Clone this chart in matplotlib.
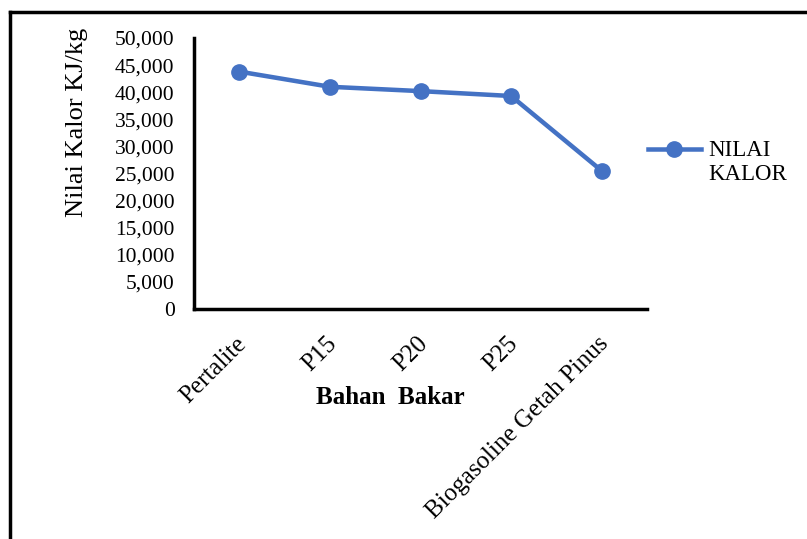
import matplotlib
matplotlib.use("Agg")
import matplotlib.pyplot as plt
from matplotlib.lines import Line2D
from matplotlib.ticker import FuncFormatter
from matplotlib.transforms import ScaledTranslation

# === Data ===
bahan_bakar = ["Pertalite", "P15", "P20", "P25", "Biogasoline Getah Pinus"]
nilai_kalor = [43800, 41000, 40200, 39300, 25500]
y_ticks = list(range(0, 50001, 5000))

plt.rcParams["font.family"] = ["Liberation Serif", "DejaVu Serif"]

W, H = 807, 539
fig = plt.figure(figsize=(W / 100, H / 100), dpi=100)
ax = fig.add_axes([194 / W, 1 - 309 / H, (647 - 194) / W, (309 - 38) / H])

ax.plot(range(len(bahan_bakar)), nilai_kalor, color="#4472C4", lw=3.25,
        marker="o", ms=11, label="NILAI\nKALOR")

ax.set_xlim(-0.5, len(bahan_bakar) - 0.5)
ax.set_ylim(0, 50000)
ax.set_yticks(y_ticks)
ax.yaxis.set_major_formatter(FuncFormatter(lambda v, p: f"{int(v):,}"))
ax.set_xticks(range(len(bahan_bakar)))
ax.set_xticklabels(bahan_bakar, rotation=45, ha="right", rotation_mode="anchor")
ax.tick_params(axis="y", length=0, pad=14, labelsize=15.5)
ax.tick_params(axis="x", length=0, pad=17, labelsize=18)
shift = ScaledTranslation(-4 / 100, 0, fig.dpi_scale_trans)
for lab in ax.get_xticklabels():
    lab.set_transform(lab.get_transform() + shift)

for s in ["top", "right"]:
    ax.spines[s].set_visible(False)
for s in ["left", "bottom"]:
    ax.spines[s].set_linewidth(2.5)
    ax.spines[s].set_color("black")

# axis titles
fig.text(77 / W, 1 - 122 / H, "Nilai Kalor KJ/kg", rotation=90,
         ha="center", va="center", fontsize=19)
fig.text(390 / W, 1 - 398 / H, "Bahan  Bakar", ha="center", va="center",
         fontsize=18, fontweight="bold")

leg = ax.legend(loc="upper left", bbox_to_anchor=(648 / W, 1 - 140 / H),
                bbox_transform=fig.transFigure, frameon=False, fontsize=16.5,
                handlelength=2.3, handletextpad=0.34, handleheight=1.1,
                borderpad=0, borderaxespad=0)
# keep the legend marker level with the first text line
for col in leg._legend_handle_box.get_children():
    for item in col.get_children():
        item.align = "top"

# outer frame (only top and left visible)
fig.add_artist(Line2D([10 / W, 10 / W], [0, 1 - 12 / H], color="black", lw=2.5,
                      transform=fig.transFigure))
fig.add_artist(Line2D([10 / W, 1], [1 - 12 / H, 1 - 12 / H], color="black", lw=2.5,
                      transform=fig.transFigure))

fig.savefig("out.png", dpi=100)
